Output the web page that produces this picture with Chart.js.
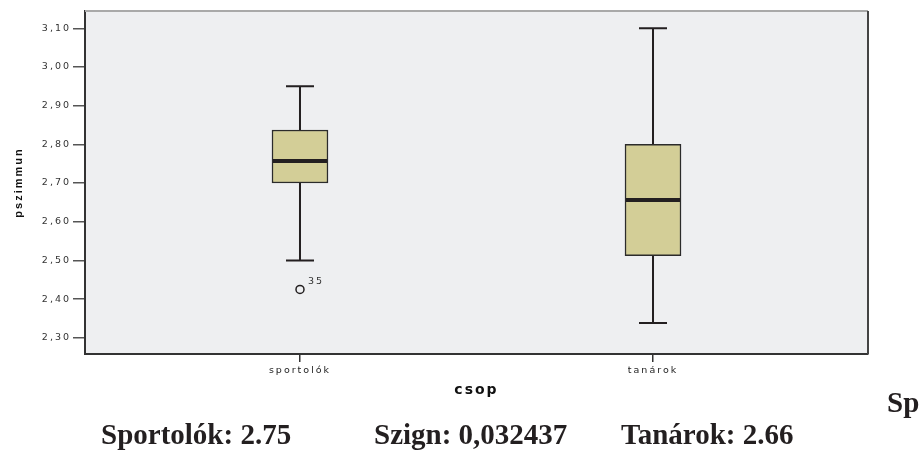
<!DOCTYPE html>
<html>
<head>
<meta charset="utf-8">
<script src="https://cdn.jsdelivr.net/npm/chart.js@4/dist/chart.umd.min.js"></script>
<style>
  html, body { margin: 0; padding: 0; background: #fff; }
  #wrap { position: relative; width: 920px; height: 450px; overflow: hidden; }
  #boxChart { position: absolute; left: 0; top: 0; }
  .note { position: absolute; font-family: "Liberation Serif", "Times New Roman", serif; font-weight: bold; font-size: 29px; line-height: 29px; color: #231f20; white-space: nowrap; }
</style>
</head>
<body>
<div id="wrap">
  <canvas id="boxChart" width="920" height="450"></canvas>
  <div class="note" style="left:101px;top:420px">Sportolók: 2.75</div>
  <div class="note" style="left:374px;top:420px">Szign: 0,032437</div>
  <div class="note" style="left:621px;top:420px">Tanárok: 2.66</div>
  <div class="note" style="left:887px;top:388px">Sp</div>
</div>
<script>
// csoportok és boxplot értékek (pszimmun)
const CATEGORIES = ['sportolók', 'tanárok'];
const MINS    = [2.50, 2.338];
const Q1S     = [2.70, 2.512];
const MEDIANS = [2.757, 2.656];
const Q3S     = [2.837, 2.80];
const MAXS    = [2.95, 3.10];
// kiugró értékek: csoport index, érték, eset sorszám
const OUTLIER_GROUP = [0];
const OUTLIER_VALUE = [2.425];
const OUTLIER_LABEL = ['35'];
const Y_TICKS = [2.30, 2.40, 2.50, 2.60, 2.70, 2.80, 2.90, 3.00, 3.10];

const BOX_W = 56, CAP_W = 28;
const INK = '#231f20';
const SANS = '"DejaVu Sans", Arial, sans-serif';

const boxParts = {
  id: 'boxParts',
  beforeDraw(chart) {
    const { ctx, chartArea: a } = chart;
    ctx.save();
    ctx.fillStyle = '#eeeff1';
    ctx.fillRect(a.left, a.top, a.right - a.left, a.bottom - a.top);
    ctx.restore();
    // az SPSS ábra szövegei szélesre nyújtottak
    ctx.letterSpacing = '2px';
  },
  beforeDatasetsDraw(chart) {
    const { ctx, scales: { x, y } } = chart;
    ctx.save();
    ctx.strokeStyle = INK;
    ctx.lineWidth = 2;
    CATEGORIES.forEach((c, i) => {
      const px = x.getPixelForValue(i + 1);
      ctx.beginPath();
      ctx.moveTo(px, y.getPixelForValue(Q3S[i])); ctx.lineTo(px, y.getPixelForValue(MAXS[i]));
      ctx.moveTo(px, y.getPixelForValue(Q1S[i])); ctx.lineTo(px, y.getPixelForValue(MINS[i]));
      ctx.moveTo(px - CAP_W / 2, y.getPixelForValue(MAXS[i])); ctx.lineTo(px + CAP_W / 2, y.getPixelForValue(MAXS[i]));
      ctx.moveTo(px - CAP_W / 2, y.getPixelForValue(MINS[i])); ctx.lineTo(px + CAP_W / 2, y.getPixelForValue(MINS[i]));
      ctx.stroke();
    });
    ctx.restore();
  },
  afterDatasetsDraw(chart) {
    const { ctx, chartArea: a, scales: { x, y } } = chart;
    ctx.save();
    // medián
    ctx.strokeStyle = INK;
    ctx.lineWidth = 4;
    CATEGORIES.forEach((c, i) => {
      const px = x.getPixelForValue(i + 1);
      const py = y.getPixelForValue(MEDIANS[i]);
      ctx.beginPath();
      ctx.moveTo(px - BOX_W / 2 + 1, py); ctx.lineTo(px + BOX_W / 2 - 1, py);
      ctx.stroke();
    });
    // kiugró címkék
    ctx.fillStyle = '#333';
    ctx.font = '9.5px ' + SANS;
    OUTLIER_GROUP.forEach((g, k) => {
      ctx.fillText(OUTLIER_LABEL[k], x.getPixelForValue(g + 1) + 8, y.getPixelForValue(OUTLIER_VALUE[k]) - 5);
    });
    // keret: felül szürke, jobb oldalt sötét
    ctx.lineWidth = 2;
    ctx.strokeStyle = '#a9a9a9';
    ctx.beginPath(); ctx.moveTo(a.left, a.top); ctx.lineTo(a.right, a.top); ctx.stroke();
    ctx.strokeStyle = '#444';
    ctx.beginPath(); ctx.moveTo(a.right, a.top); ctx.lineTo(a.right, a.bottom); ctx.stroke();
    ctx.restore();
  },
  afterDraw(chart) {
    chart.ctx.letterSpacing = '0px';
  }
};

new Chart(document.getElementById('boxChart'), {
  type: 'bar',
  data: {
    datasets: [{
      type: 'bar',
      data: CATEGORIES.map((c, i) => ({ x: i + 1, y: [Q1S[i], Q3S[i]] })),
      backgroundColor: '#d3ce97',
      borderColor: '#2b2b2b',
      borderWidth: 1.5,
      borderSkipped: false,
      barThickness: BOX_W
    }, {
      type: 'line',
      data: OUTLIER_GROUP.map((g, k) => ({ x: g + 1, y: OUTLIER_VALUE[k] })),
      showLine: false,
      pointStyle: 'circle',
      pointRadius: 4,
      pointBorderWidth: 1.5,
      pointBorderColor: INK,
      pointBackgroundColor: 'transparent'
    }]
  },
  options: {
    responsive: false,
    animation: false,
    layout: { padding: { left: 0, top: 11, right: 52, bottom: 50 } },
    plugins: { legend: { display: false }, tooltip: { enabled: false } },
    scales: {
      x: {
        type: 'linear',
        offset: false,
        min: 0.391, max: 2.609,
        afterBuildTicks: s => { s.ticks = CATEGORIES.map((c, i) => ({ value: i + 1 })); },
        afterFit: s => { s.height = 46; },
        grid: { offset: false, drawOnChartArea: false, tickLength: 8, color: '#333', lineWidth: 1.5 },
        border: { color: '#333', width: 2 },
        ticks: { color: '#222', font: { family: SANS, size: 9.5 }, padding: 3, maxRotation: 0, callback: v => CATEGORIES[v - 1] },
        title: { display: true, text: 'csop', color: '#111', font: { family: SANS, size: 14, weight: 'bold' }, padding: { top: 0, bottom: 1 } }
      },
      y: {
        min: 2.258, max: 3.1447,
        afterBuildTicks: s => { s.ticks = Y_TICKS.map(v => ({ value: v })); },
        afterFit: s => { s.width = 85; },
        grid: { drawOnChartArea: false, tickLength: 12, color: '#555', lineWidth: 1.5 },
        border: { color: '#333', width: 2 },
        ticks: { color: '#333', font: { family: SANS, size: 9.5 }, padding: 2, callback: v => v.toFixed(2).replace('.', ',') },
        title: { display: true, text: 'pszimmun', color: '#111', font: { family: '"Liberation Sans Narrow", Arial, sans-serif', size: 11, weight: 'bold' }, padding: { top: 12, bottom: 0 } }
      }
    }
  },
  plugins: [boxParts]
});
</script>
</body>
</html>
